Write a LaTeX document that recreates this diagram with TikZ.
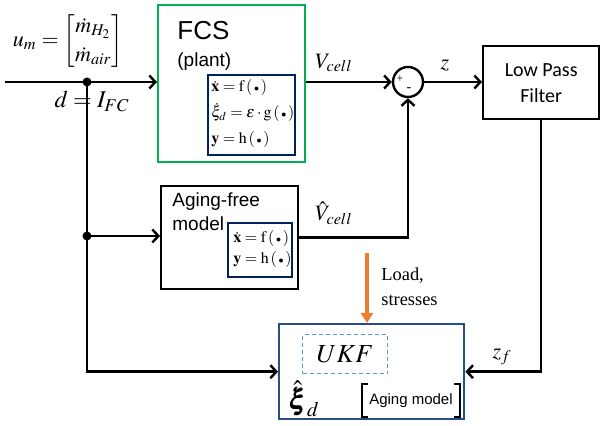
\documentclass[tikz,border=0pt]{standalone}
\usepackage{amsmath}
\usepackage{mathptmx}
\usepackage{bm}
\usepackage{fontspec}
\setmainfont{Liberation Serif}
\setsansfont{Liberation Sans}
\newfontfamily\lpffont{Carlito}
\usetikzlibrary{arrows.meta,positioning,calc}

\definecolor{fcsgreen}{RGB}{0,176,80}
\definecolor{eqnavy}{RGB}{0,32,96}
\definecolor{ukfblue}{RGB}{41,77,135}
\definecolor{ukflight}{RGB}{91,155,213}
\definecolor{loadorange}{RGB}{237,125,49}

\newcommand{\argdot}{\left(\,{\scriptscriptstyle\bullet}\,\right)}

\begin{document}
\begin{tikzpicture}[x=0.5pt, y=-0.5pt,
  block/.style={rectangle, draw, line width=1.2pt, inner sep=0pt, anchor=north west},
  eqbox/.style={rectangle, draw=eqnavy, line width=1pt, inner sep=0pt, anchor=north west},
  eqtext/.style={font=\fontsize{8}{13}\selectfont, align=left, inner sep=0pt, anchor=west},
  blocktext/.style={font=\sffamily\fontsize{9.5}{12}\selectfont, align=left, inner sep=0pt,
                    anchor=north west},
  link/.style={draw, line width=1.2pt},
  wire/.style={draw, line width=1.2pt, -{Straight Barb[length=3pt,width=6.5pt]}},
  junction/.style={circle, fill, inner sep=0pt, minimum size=4.5pt},
  lbl/.style={font=\fontsize{11}{13}\selectfont, inner sep=0pt},
]
  \useasboundingbox (0,0) rectangle (602,426);

  % ========= PLANT (FCS) =========
  \node[block, draw=fcsgreen, minimum width=73.5pt, minimum height=78.5pt] (fcs) at (157,4) {};
  \node[anchor=base west, inner sep=0pt, font=\sffamily\fontsize{13}{15}\selectfont]
       (fcstitle) at (177,40) {FCS};
  \node[anchor=base west, inner sep=0pt, font=\sffamily\fontsize{9.5}{11}\selectfont]
       (fcssub) at (177,67) {(plant)};
  \node[eqbox, minimum width=43.5pt, minimum height=40pt] (fcseq) at (207,74) {};
  \node[eqtext] (fcseqtext) at (211,114)
       {$\dot{\mathbf{x}} = \mathrm{f}\argdot$\\
        $\dot{\xi}_d = \varepsilon\cdot\mathrm{g}\argdot$\\
        $\mathbf{y} = \mathrm{h}\argdot$};

  % ========= AGING-FREE MODEL =========
  \node[block, minimum width=68.5pt, minimum height=51.5pt] (afm) at (160,185) {};
  \node[blocktext] (afmtext) at (172,192) {Aging-free\\model};
  \node[eqbox, minimum width=32pt, minimum height=27pt] (afmeq) at (227,222) {};
  \node[eqtext, font=\fontsize{8}{10.5}\selectfont] (afmeqtext) at (233,249)
       {$\dot{\mathbf{x}} = \mathrm{f}\argdot$\\
        $\mathbf{y} = \mathrm{h}\argdot$};

  % ========= SUM + FILTER =========
  \node[circle, draw, line width=1.2pt, minimum size=15pt, inner sep=0pt] (sum) at (408,82) {};
  \node[font=\fontsize{6}{7}\selectfont, inner sep=0pt] (plus) at (400,79) {+};
  \node[font=\fontsize{7}{7}\selectfont, inner sep=0pt] (minus) at (409,90) {-};
  \node[block, minimum width=58pt, minimum height=36.5pt, align=center,
        font=\lpffont\fontsize{10}{13}\selectfont] (lpf) at (482,45) {Low Pass\\Filter};

  % ========= UKF =========
  \node[block, draw=ukfblue, minimum width=92.5pt, minimum height=47.5pt] (ukf) at (278,323) {};
  \node[rectangle, draw=ukflight, dash pattern=on 2pt off 1.5pt, line width=0.6pt,
        minimum width=42.5pt, minimum height=19.5pt, inner sep=0pt, anchor=north west,
        font=\fontsize{13}{15}\selectfont] (ukfcore) at (302,334) {$UKF$};
  \node[font=\fontsize{14}{16}\selectfont, inner sep=0pt] (xihat) at (304,399) {$\hat{\bm{\xi}}_d$};
  \node[minimum width=49pt, minimum height=16.5pt, inner sep=0pt,
        font=\sffamily\fontsize{7.5}{8}\selectfont] (agemod) at (411,400.5) {Aging model};
  \draw[link, line width=1pt] ([xshift=3pt]agemod.north west) -- (agemod.north west)
       -- (agemod.south west) -- ([xshift=3pt]agemod.south west);
  \draw[link, line width=1pt] ([xshift=-3pt]agemod.north east) -- (agemod.north east)
       -- (agemod.south east) -- ([xshift=-3pt]agemod.south east);

  % ========= signals =========
  \coordinate (in) at (5,82);
  \node[junction] (dot1) at (87,82) {};
  \node[junction] (dot2) at (87,236) {};
  \draw[wire] (in) -- (in -| fcs.west);
  \draw[wire] (dot1.center) -- (dot1.center |- ukf.west) -- (ukf.west);
  \draw[wire] (dot2.center) -- (dot2.center -| afm.west);
  \draw[wire] (sum -| fcs.east) -- (sum.west);
  \draw[wire] (afm.east) -| (sum.south);
  \draw[wire] (sum.east) -- (sum -| lpf.west);
  \draw[wire] (lpf.south) |- (ukf.east);

  \coordinate (load) at (367,253);
  \draw[line width=1.6pt, loadorange, -{Triangle[length=5pt,width=6pt]}] (load) -- (load |- ukf.north);
  \node[font=\fontsize{9.2}{12.5}\selectfont, align=left, anchor=west, inner sep=0pt]
       (loadlbl) at (381,287) {Load,\\stresses};

  % labels
  \node[lbl, font=\fontsize{11}{13}\selectfont] (um) at (68,41)
       {$u_m = \renewcommand{\arraystretch}{1.1}\begin{bmatrix}\dot m_{H_2}\\ \dot m_{air}\end{bmatrix}$};
  \node[lbl, font=\fontsize{12}{14}\selectfont] (dlbl) at (92,101) {$d = I_{FC}$};
  \node[lbl] (vcell) at (334,63) {$V_{cell}$};
  \node[lbl] (zlbl) at (445,66) {$z$};
  \node[lbl] (vhat) at (334,213) {$\hat{V}_{cell}$};
  \node[lbl] (zflbl) at (502,357) {$z_f$};

\end{tikzpicture}
\end{document}
